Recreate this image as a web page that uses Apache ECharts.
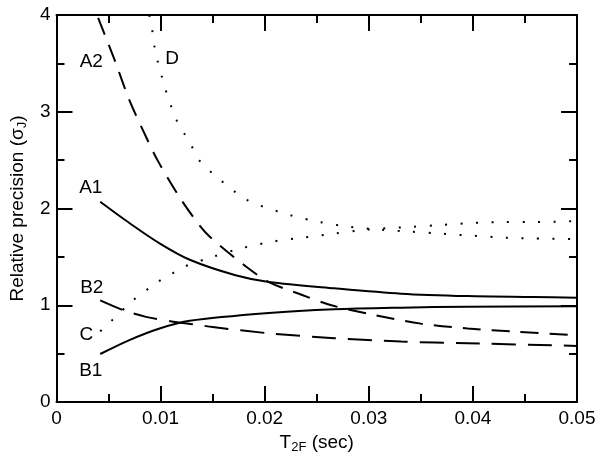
<!DOCTYPE html>
<html><head><meta charset="utf-8">
<script src="https://cdn.jsdelivr.net/npm/echarts@6/dist/echarts.min.js"></script>
<style>html,body{margin:0;padding:0;background:#fff}#c{width:600px;height:462px}</style>
</head><body><div id="c"></div>
<script>
var xTickLabels = ['0','0.01','0.02','0.03','0.04','0.05'];
var yTickLabels = ['0','1','2','3','4'];

var curveA1 = [[0.0042,2.07],[0.0070,1.85],[0.0099,1.64],[0.0128,1.47],[0.0172,1.31],[0.0204,1.24],[0.0267,1.175],[0.0331,1.12],[0.0395,1.095],[0.0458,1.085],[0.050,1.078]];
var curveB1 = [[0.0042,0.496],[0.0070,0.64],[0.0099,0.76],[0.0128,0.84],[0.0204,0.92],[0.0267,0.958],[0.0331,0.975],[0.0395,0.985],[0.050,0.99]];
var curveA2 = [[0.0040,3.97],[0.0056,3.53],[0.0070,3.12],[0.0083,2.81],[0.0097,2.50],[0.0118,2.12],[0.0137,1.83],[0.0148,1.70],[0.0182,1.40],[0.0204,1.24],[0.0236,1.106],[0.0264,1.00],[0.0305,0.90],[0.035,0.81],[0.0395,0.76],[0.0442,0.727],[0.050,0.69]];
var curveB2 = [[0.0042,1.05],[0.0064,0.95],[0.0086,0.88],[0.0112,0.83],[0.0134,0.80],[0.015,0.775],[0.0204,0.71],[0.0267,0.66],[0.0331,0.625],[0.0395,0.607],[0.050,0.58]];
var curveC = [[0.0042,0.73],[0.0052,0.83],[0.00735,1.05],[0.00973,1.24],[0.0110,1.32],[0.0123,1.40],[0.015,1.50],[0.0178,1.59],[0.0209,1.66],[0.0237,1.70],[0.0267,1.74],[0.0296,1.78],[0.0341,1.81],[0.0369,1.83],[0.0400,1.85],[0.043,1.86],[0.0458,1.86],[0.050,1.87]];
var curveD = [[0.0089,4.0],[0.0092,3.84],[0.0094,3.68],[0.0097,3.53],[0.0101,3.37],[0.0105,3.22],[0.0110,3.06],[0.01155,2.91],[0.0123,2.77],[0.0130,2.64],[0.0137,2.50],[0.0148,2.38],[0.0183,2.09],[0.0225,1.93],[0.0253,1.86],[0.0282,1.81],[0.0312,1.78],[0.0341,1.76],[0.0369,1.74],[0.0398,1.72],[0.0429,1.70],[0.0458,1.69],[0.050,1.685]];

var curveLabels = [
  {name:'A2', value:[0.00339,3.51]},
  {name:'D',  value:[0.01116,3.545]},
  {name:'A1', value:[0.00334,2.21]},
  {name:'B2', value:[0.00344,1.18]},
  {name:'C',  value:[0.00291,0.69]},
  {name:'B1', value:[0.00334,0.32]}
];

var FONT = '"Liberation Sans", Arial, Helvetica, sans-serif';
var FS = 19;
var axisBase = {
  axisLine:{show:true,onZero:false,lineStyle:{color:'#000',width:2}},
  axisTick:{show:true,inside:true,length:16,lineStyle:{color:'#000',width:2}},
  minorTick:{show:true,splitNumber:2,length:8,lineStyle:{color:'#000',width:2}},
  splitLine:{show:false},
  minorSplitLine:{show:false}
};
function ax(o){return Object.assign({}, JSON.parse(JSON.stringify(axisBase)), o);}

var chart = echarts.init(document.getElementById('c'), null, {renderer:'canvas'});
function line(data, dash){
  return {type:'line', data:data, showSymbol:false, smooth:0.3, silent:true,
    lineStyle:{color:'#000', width:2, type:dash, cap:'butt'}};
}
var richName = {m:{fontSize:FS,fontFamily:FONT,color:'#000'},s:{fontSize:13,fontFamily:FONT,color:'#000',verticalAlign:'bottom',padding:[9,0,0,0]}};
chart.setOption({
  animation:false,
  backgroundColor:'#fff',
  textStyle:{fontFamily:FONT},
  grid:{left:53,right:23,top:15,bottom:60,containLabel:false},
  xAxis:[
    ax({type:'value',position:'bottom',min:0,max:0.05,interval:0.01,
      axisLabel:{color:'#000',fontSize:FS,fontFamily:FONT,margin:7,
        formatter:function(v){return xTickLabels[Math.round(v/0.01)];}},
      name:'{m|T}{s|2F}{m| (sec)}', nameLocation:'middle', nameGap:30,
      nameTextStyle:{rich:richName}
    }),
    ax({type:'value',position:'top',min:0,max:0.05,interval:0.01,axisLabel:{show:false}})
  ],
  yAxis:[
    ax({type:'value',position:'left',min:0,max:4,interval:1,
      axisLabel:{color:'#000',fontSize:FS,fontFamily:FONT,margin:6,
        formatter:function(v){return yTickLabels[Math.round(v)];}},
      name:'{m|Relative precision (σ}{s|J}{m|)}', nameLocation:'middle', nameGap:28,
      nameTextStyle:{rich:richName}
    }),
    ax({type:'value',position:'right',min:0,max:4,interval:1,axisLabel:{show:false}})
  ],
  series:[
    line(curveA1,'solid'),
    line(curveB1,'solid'),
    line(curveA2,[18,11]),
    line(curveB2,[24,12]),
    line(curveC,[2,13.5]),
    line(curveD,[2,13.5]),
    {type:'scatter', data:curveLabels, symbolSize:1, silent:true,
      itemStyle:{color:'rgba(0,0,0,0)'},
      label:{show:true, position:[0,0], align:'center', verticalAlign:'middle', formatter:'{b}',
        color:'#000', fontSize:FS, fontFamily:FONT, textBorderWidth:0, opacity:1}}
  ]
});
</script></body></html>
